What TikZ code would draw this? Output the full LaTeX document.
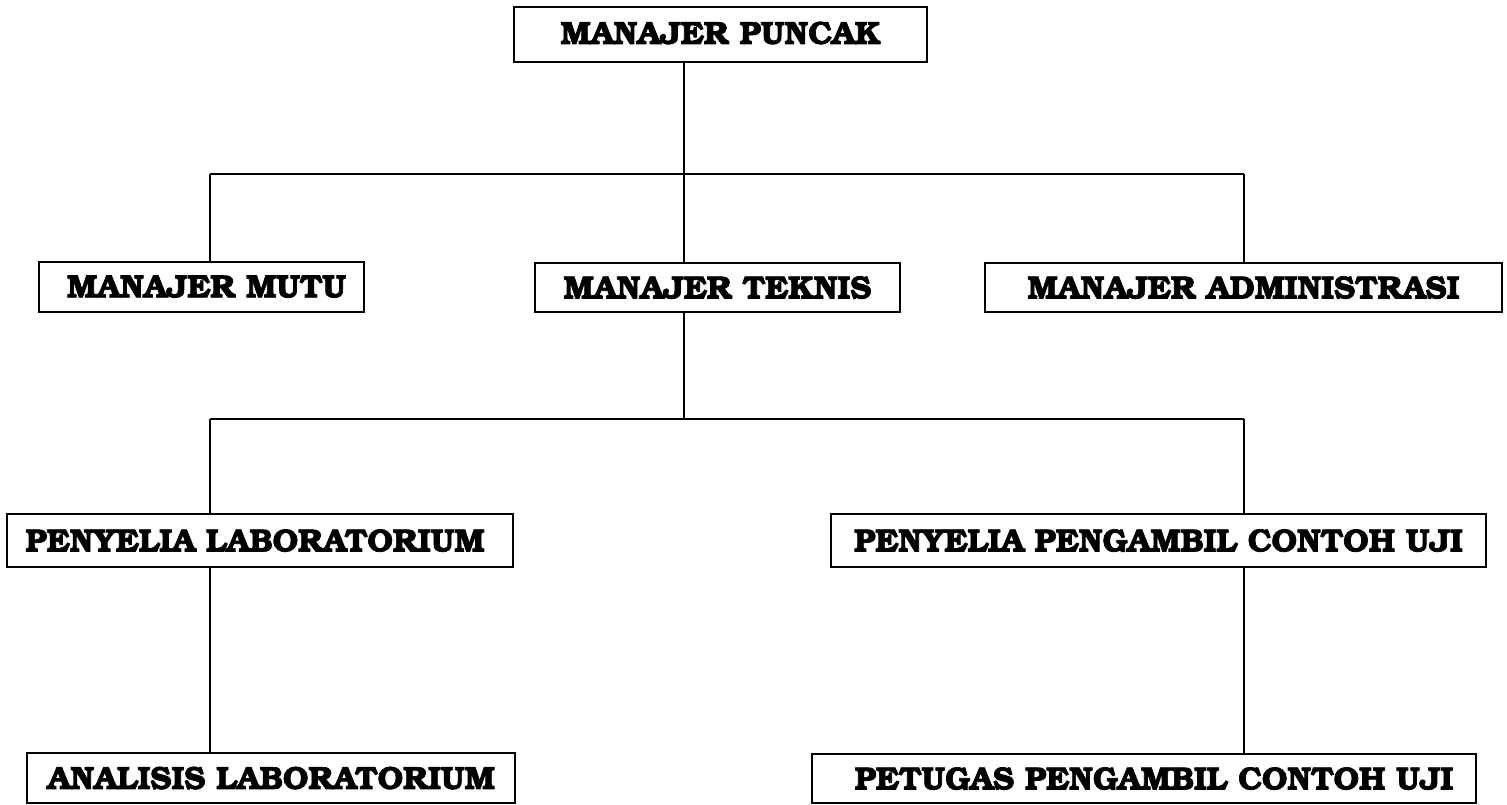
\documentclass[tikz,border=0pt]{standalone}
\usepackage[T1]{fontenc}
\usepackage{bookman}
\newcommand\heavytext[1]{\special{pdf:literal direct 0.7 w 2 Tr}#1\special{pdf:literal direct 0 Tr}}
\begin{document}
\begin{tikzpicture}[x=1pt,y=-1pt,
  orgbox/.style={draw, line width=2pt, inner sep=0pt, anchor=center,
    font=\fontsize{32}{38}\selectfont\bfseries},
  link/.style={line width=2pt}]
\useasboundingbox (0,0) rectangle (1507,804);
\node[orgbox, minimum width=413pt, minimum height=55pt] (puncak) at (720.5,34.5) {\raisebox{4pt}{\heavytext{MANAJER PUNCAK}}};
\node[orgbox, minimum width=325pt, minimum height=50pt] (mutu) at (201.5,287) {\hspace*{10pt}\heavytext{MANAJER MUTU}};
\node[orgbox, minimum width=365pt, minimum height=49pt] (teknis) at (717.5,287.5) {\heavytext{MANAJER TEKNIS}};
\node[orgbox, minimum width=517pt, minimum height=49pt] (admin) at (1243.5,287.5) {\heavytext{MANAJER ADMINISTRASI}};
\node[orgbox, minimum width=506pt, minimum height=53pt] (plab) at (260,540.5) {\heavytext{PENYELIA LABORATORIUM}\hspace*{10pt}};
\node[orgbox, minimum width=655pt, minimum height=53pt] (ppc) at (1158.5,540.5) {\heavytext{PENYELIA PENGAMBIL CONTOH UJI}};
\node[orgbox, minimum width=488pt, minimum height=50pt] (analis) at (271,778) {\heavytext{ANALISIS LABORATORIUM}};
\node[orgbox, minimum width=664pt, minimum height=49pt] (petugas) at (1144,778.5) {\hspace*{20pt}\heavytext{PETUGAS PENGAMBIL CONTOH UJI}};
\coordinate (j1) at (684,174);
\coordinate (l1) at (210,174);
\coordinate (r1) at (1244,174);
\coordinate (j2) at (684,419);
\coordinate (l2) at (210,419);
\coordinate (r2) at (1244,419);
\draw[link] (puncak.south -| j1) -- (j1);
\draw[link] (l1) -- (r1);
\draw[link] (l1) -- (l1 |- mutu.north);
\draw[link] (j1) -- (j1 |- teknis.north);
\draw[link] (r1) -- (r1 |- admin.north);
\draw[link] (teknis.south -| j2) -- (j2);
\draw[link] (l2) -- (r2);
\draw[link] (l2) -- (l2 |- plab.north);
\draw[link] (r2) -- (r2 |- ppc.north);
\draw[link] (plab.south -| l2) -- (l2 |- analis.north);
\draw[link] (ppc.south -| r2) -- (r2 |- petugas.north);
\end{tikzpicture}
\end{document}
